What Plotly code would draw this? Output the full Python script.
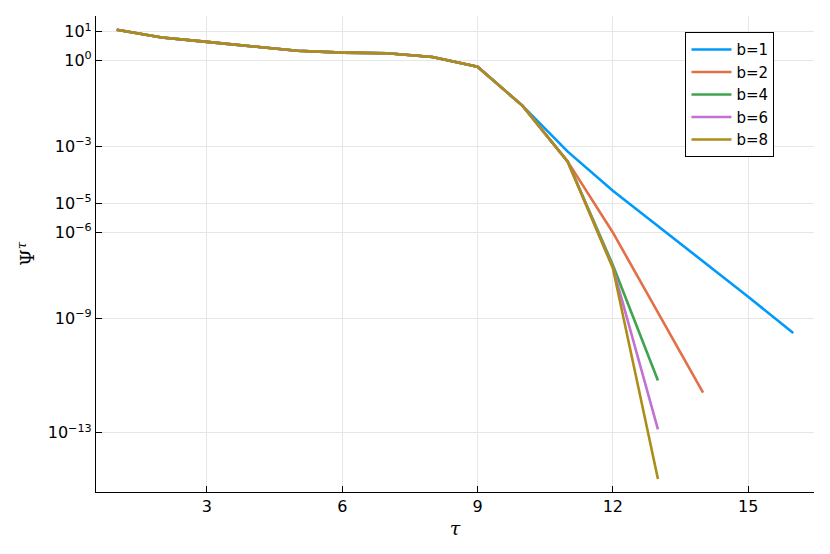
import plotly.graph_objects as go

tau = list(range(1, 17))

common = [11.7, 6.3, 4.4, 3.05, 2.17, 1.86, 1.76, 1.31, 0.60, 0.0257]

b1 = common + [6.5e-4, 2.8e-5, 1.65e-6, 1.0e-7, 5.6e-9, 3.0e-10]
b2 = common + [2.9e-4, 9.8e-7, 1.6e-9, 2.5e-12]
b4 = common + [2.9e-4, 7.2e-8, 6.6e-12]
b6 = common + [2.9e-4, 6.0e-8, 1.3e-13]
b8 = common + [2.9e-4, 5.6e-8, 2.4e-15]

series = [("b=1", b1, "#009AFA"), ("b=2", b2, "#E36F47"), ("b=4", b4, "#3EA44E"),
          ("b=6", b6, "#C271D2"), ("b=8", b8, "#AC8D18")]

ytick_vals = [1e1, 1e0, 1e-3, 1e-5, 1e-6, 1e-9, 1e-13]
ytick_text = ["10<sup>1</sup>", "10<sup>0</sup>", "10<sup>−3</sup>", "10<sup>−5</sup>",
              "10<sup>−6</sup>", "10<sup>−9</sup>", "10<sup>−13</sup>"]
xtick_vals = [3, 6, 9, 12, 15]

fig = go.Figure()
for name, vals, col in series:
    fig.add_trace(go.Scatter(x=tau[:len(vals)], y=vals, mode="lines", name=name,
                             line=dict(color=col, width=2.6)))

axis_common = dict(showline=True, linecolor="black", linewidth=1.2, ticks="inside",
                   ticklen=6, tickcolor="black", showgrid=True, gridcolor="#e6e6e6",
                   gridwidth=1, zeroline=False, mirror=False,
                   tickfont=dict(family="DejaVu Sans", size=16, color="black"))

fig.update_layout(
    width=830, height=554,
    margin=dict(l=96, r=16, t=16, b=62),
    plot_bgcolor="white", paper_bgcolor="white",
    xaxis=dict(range=[0.54, 16.46], tickvals=xtick_vals,
               title=dict(text="<i>τ</i>", font=dict(family="DejaVu Serif", size=19, color="black"), standoff=6),
               **axis_common),
    yaxis=dict(type="log", range=[-15.07, 1.548], tickvals=ytick_vals, ticktext=ytick_text,
               title=dict(text="Ψ<sup><i>τ</i></sup>", font=dict(family="DejaVu Serif", size=19, color="black"), standoff=8),
               **axis_common),
    legend=dict(x=0.821, y=0.966, xanchor="left", yanchor="top",
                bgcolor="white", bordercolor="black", borderwidth=1,
                font=dict(family="DejaVu Sans", size=15, color="black"),
                tracegroupgap=0, itemwidth=40),
    showlegend=True,
)

fig.write_html("out.html", config={"displayModeBar": False},
               post_script="document.body.style.margin='0';document.body.style.overflow='hidden';")
